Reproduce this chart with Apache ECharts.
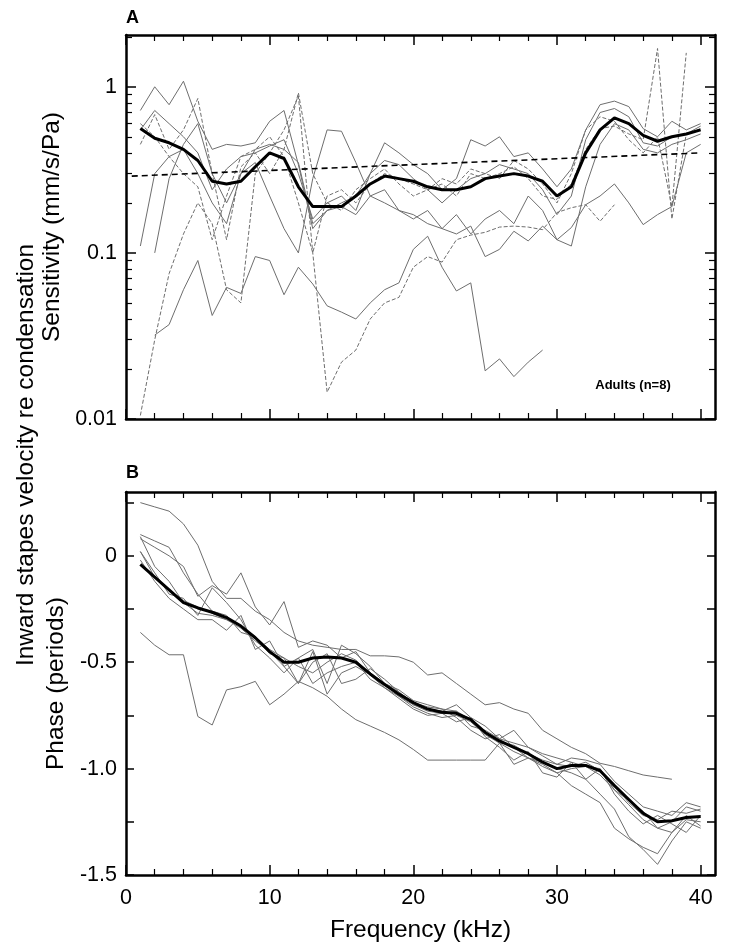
<!DOCTYPE html>
<html><head><meta charset="utf-8">
<script src="https://cdn.jsdelivr.net/npm/echarts@6/dist/echarts.min.js"></script>
<style>html,body{margin:0;padding:0;background:#fff}#c{width:730px;height:945px}</style>
</head><body><div id="c"></div>
<script>
// ---------- DATA ----------
const freq = [1,2,3,4,5,6,7,8,9,10,11,12,13,14,15,16,17,18,19,20,21,22,23,24,25,26,27,28,29,30,31,32,33,34,35,36,37,38,39,40];

// Panel A: sensitivity (mm/s/Pa), individual ears
const sensA = [0.72,1.0,0.78,1.08,0.62,0.42,0.45,0.44,0.46,0.62,0.72,0.34,0.14,0.18,0.20,0.22,0.30,0.46,0.40,0.34,0.30,0.24,0.28,0.48,0.44,0.50,0.38,0.40,0.32,0.25,0.32,0.55,0.78,0.82,0.76,0.56,0.50,0.62,0.55,0.60];
const sensB = [0.55,0.72,0.60,0.50,0.40,0.24,0.32,0.38,0.40,0.44,0.48,0.30,0.16,0.20,0.22,0.18,0.30,0.36,0.34,0.28,0.24,0.20,0.24,0.28,0.30,0.34,0.32,0.30,0.24,0.17,0.22,0.48,0.70,0.74,0.66,0.46,0.44,0.50,0.52,0.58];
const sensC = [0.45,0.68,0.42,0.55,0.85,0.30,0.12,0.33,0.40,0.30,0.42,0.92,0.30,0.20,0.18,0.24,0.28,0.32,0.26,0.22,0.24,0.28,0.26,0.32,0.30,0.28,0.36,0.32,0.26,0.20,0.30,0.55,0.66,0.62,0.48,0.40,0.50,0.19,1.60,null];
const sensD = [0.60,0.50,0.38,0.30,0.25,0.12,0.22,0.38,0.42,0.50,0.38,0.20,0.10,0.22,0.24,0.20,0.26,0.30,0.28,0.26,0.24,0.26,0.22,0.30,0.28,0.30,0.33,0.28,0.22,0.21,0.26,0.42,0.56,0.58,0.52,0.48,1.70,0.16,0.52,0.56];
const sensE = [0.11,0.30,0.38,0.42,0.30,0.20,0.15,0.30,0.35,0.22,0.14,0.10,0.28,0.55,0.54,0.35,0.22,0.20,0.18,0.17,0.15,0.14,0.13,0.145,0.095,0.105,0.135,0.118,0.145,0.12,0.142,0.195,0.22,0.26,0.20,0.148,0.17,0.19,0.40,0.45];
const sensF = [0.0105,0.03,0.075,0.13,0.20,0.15,0.06,0.05,0.30,0.40,0.55,0.88,0.10,0.0145,0.022,0.026,0.040,0.05,0.054,0.082,0.095,0.088,0.12,0.128,0.133,0.143,0.145,0.143,0.138,0.175,0.187,0.195,0.155,0.195,null,null,null,null,null,null];
const sensG = [null,0.032,0.037,0.06,0.09,0.042,0.062,0.057,0.095,0.09,0.056,0.082,0.065,0.048,0.044,0.040,0.05,0.06,0.066,0.105,0.126,0.082,0.059,0.066,0.0195,0.023,0.018,0.022,0.026,null,null,null,null,null,null,null,null,null,null,null];
const sensH = [null,0.10,0.28,0.45,0.60,0.30,0.20,0.30,0.42,0.45,0.42,0.35,0.15,0.18,0.19,0.17,0.22,0.24,0.18,0.16,0.18,0.14,0.17,0.13,0.16,0.18,0.15,0.22,0.18,0.12,0.11,0.25,0.45,0.60,0.55,0.42,0.40,0.45,0.48,0.52];
const sensMean = [0.56,0.49,0.46,0.42,0.36,0.27,0.26,0.27,0.33,0.40,0.37,0.25,0.19,0.19,0.19,0.22,0.26,0.29,0.28,0.27,0.25,0.24,0.24,0.25,0.28,0.29,0.30,0.29,0.27,0.22,0.25,0.40,0.55,0.65,0.60,0.51,0.47,0.50,0.52,0.55];
// exponential fit (straight on log axis)
const fitFreq = [0.4, 40];
const fitSens = [0.29, 0.40];

// Panel B: phase (periods)
const phaseA = [0.25,0.23,0.21,0.15,0.05,-0.12,-0.20,-0.20,-0.26,-0.30,-0.36,-0.40,-0.42,-0.43,-0.44,-0.44,-0.47,-0.47,-0.475,-0.50,-0.56,-0.55,-0.60,-0.65,-0.70,-0.69,-0.72,-0.74,-0.82,-0.86,-0.90,-0.93,-0.975,-0.99,-1.01,-1.03,-1.04,-1.05,null,null];
const phaseB = [0.08,0.04,0.0,-0.05,-0.19,-0.14,-0.18,-0.08,-0.24,-0.325,-0.215,-0.43,-0.40,-0.42,-0.48,-0.45,-0.55,-0.60,-0.63,-0.68,-0.70,-0.72,-0.73,-0.80,-0.82,-0.86,-0.88,-0.90,-0.93,-0.95,-0.97,-0.99,-1.00,-1.10,-1.15,-1.20,-1.28,-1.25,-1.18,-1.20];
const phaseC = [-0.36,-0.42,-0.465,-0.465,-0.755,-0.795,-0.63,-0.615,-0.59,-0.70,-0.65,-0.59,-0.62,-0.66,-0.72,-0.77,-0.80,-0.83,-0.865,-0.91,-0.96,-0.96,-0.96,-0.96,-0.96,-0.88,-0.98,-0.95,-0.97,-1.00,-1.02,-1.05,-1.12,-1.19,-1.32,-1.38,-1.45,-1.34,-1.25,-1.28];
const phaseD = [0.09,-0.05,-0.12,-0.22,-0.27,-0.28,-0.30,-0.34,-0.40,-0.45,-0.52,-0.48,-0.60,-0.55,-0.52,-0.50,-0.58,-0.62,-0.66,-0.71,-0.74,-0.76,-0.75,-0.78,-0.84,-0.88,-0.92,-0.95,-0.99,-1.02,-1.00,-0.99,-1.03,-1.10,-1.17,-1.24,-1.28,-1.30,-1.22,-1.27];
const phaseE = [0.02,-0.08,-0.18,-0.20,-0.28,-0.15,-0.22,-0.30,-0.42,-0.48,-0.55,-0.48,-0.44,-0.60,-0.42,-0.46,-0.52,-0.60,-0.64,-0.70,-0.72,-0.73,-0.70,-0.76,-0.80,-0.86,-0.82,-0.90,-0.94,-0.98,-0.95,-0.96,-0.98,-1.06,-1.12,-1.18,-1.20,-1.22,-1.16,-1.18];
const phaseF = [-0.02,-0.12,-0.20,-0.25,-0.30,-0.30,-0.35,-0.28,-0.44,-0.40,-0.52,-0.60,-0.45,-0.65,-0.55,-0.52,-0.56,-0.62,-0.67,-0.72,-0.75,-0.74,-0.78,-0.76,-0.85,-0.90,-0.96,-0.92,-1.02,-1.04,-0.97,-1.05,-1.00,-1.12,-1.20,-1.26,-1.22,-1.26,-1.30,-1.22];
const phaseG = [0.10,0.07,0.04,-0.08,-0.18,-0.26,-0.28,-0.36,-0.38,-0.46,-0.48,-0.60,-0.50,-0.46,-0.60,-0.58,-0.53,-0.58,-0.64,-0.69,-0.71,-0.72,-0.76,-0.82,-0.86,-0.84,-0.90,-0.95,-0.98,-1.02,-1.08,-1.12,-1.16,-1.28,-1.33,-1.37,-1.40,-1.30,-1.24,-1.25];
const phaseH = [0.02,-0.10,-0.16,-0.21,-0.24,-0.27,-0.30,-0.33,-0.38,-0.44,-0.48,-0.52,-0.55,-0.50,-0.46,-0.49,-0.56,-0.60,-0.66,-0.70,-0.73,-0.74,-0.73,-0.77,-0.83,-0.88,-0.89,-0.93,-0.96,-0.98,-0.99,-0.97,-1.01,-1.08,-1.16,-1.22,-1.24,-1.20,-1.21,-1.19];
const phaseMean = [-0.04,-0.10,-0.16,-0.22,-0.245,-0.265,-0.29,-0.33,-0.385,-0.45,-0.50,-0.50,-0.48,-0.475,-0.48,-0.50,-0.555,-0.605,-0.65,-0.69,-0.72,-0.735,-0.74,-0.77,-0.83,-0.87,-0.90,-0.93,-0.97,-1.00,-0.985,-0.985,-1.01,-1.08,-1.145,-1.21,-1.25,-1.245,-1.23,-1.225];

// tick values
const xMajorTicks = [0,10,20,30,40];
const xMinorTicks = [2,4,6,8,12,14,16,18,22,24,26,28,32,34,36,38];
const sensMajorTicks = [0.01,0.1,1];
const sensMinorTicks = [0.02,0.03,0.04,0.05,0.06,0.07,0.08,0.09,0.2,0.3,0.4,0.5,0.6,0.7,0.8,0.9,2];
const phaseTicks = [-1.5,-1.25,-1,-0.75,-0.5,-0.25,0,0.25];
const phaseLabels = [-1.5,-1,-0.5,0];

// ---------- CHART ----------
const FONT = 'Liberation Sans, Arial, Helvetica, sans-serif';
const pairs = (xs, ys) => xs.map((x,i)=>[x, ys[i]]).filter(p => p[1] !== null);
const chart = echarts.init(document.getElementById('c'), null, {renderer:'canvas'});

const grids = [
  {left:126, right:15, top:35, height:384},
  {left:126, right:15, top:492, height:383}
];
const lineBlack = {show:true, onZero:false, lineStyle:{color:'#000', width:2.5}};
const noLine = {show:false, onZero:false};
const TICK_FS = 21.5, TITLE_FS = 24.5;

function xAxes(g, withLabels) {
  const base = {gridIndex:g, type:'value', min:0, max:41, splitLine:{show:false}};
  return [
    Object.assign({}, base, {position:'bottom', axisLine:lineBlack,
      axisTick:{show:true, inside:true, length:10, customValues:xMajorTicks, lineStyle:{color:'#000', width:1.5}},
      axisLabel: withLabels ? {show:true, customValues:xMajorTicks, fontSize:TICK_FS, color:'#000', fontFamily:FONT, margin:12} : {show:false},
      name: withLabels ? 'Frequency (kHz)' : '', nameLocation:'middle', nameGap:43,
      nameTextStyle:{fontSize:TITLE_FS, color:'#000', fontFamily:FONT}}),
    Object.assign({}, base, {position:'top', axisLine:lineBlack,
      axisTick:{show:true, inside:true, length:10, customValues:xMajorTicks, lineStyle:{color:'#000', width:1.5}},
      axisLabel:{show:false}}),
    Object.assign({}, base, {position:'bottom', axisLine:noLine,
      axisTick:{show:true, inside:true, length:6, customValues:xMinorTicks, lineStyle:{color:'#000', width:1.2}},
      axisLabel:{show:false}}),
    Object.assign({}, base, {position:'top', axisLine:noLine,
      axisTick:{show:true, inside:true, length:6, customValues:xMinorTicks, lineStyle:{color:'#000', width:1.2}},
      axisLabel:{show:false}})
  ];
}

const sensBase = {gridIndex:0, type:'log', logBase:10, min:0.01, max:2.05, splitLine:{show:false}};
const phaseBase = {gridIndex:1, type:'value', min:-1.5, max:0.3, splitLine:{show:false}};
const yAxes = [
  Object.assign({}, sensBase, {position:'left', axisLine:lineBlack,
    axisTick:{show:true, inside:true, length:10, customValues:sensMajorTicks, lineStyle:{color:'#000', width:1.5}},
    axisLabel:{show:true, customValues:sensMajorTicks, fontSize:TICK_FS, color:'#000', fontFamily:FONT, margin:9,
      formatter: v => String(v)},
    name:'Sensitivity (mm/s/Pa)', nameLocation:'middle', nameGap:57, nameRotate:90,
    nameTextStyle:{fontSize:TITLE_FS, color:'#000', fontFamily:FONT}}),
  Object.assign({}, sensBase, {position:'right', axisLine:lineBlack,
    axisTick:{show:true, inside:true, length:10, customValues:sensMajorTicks, lineStyle:{color:'#000', width:1.5}},
    axisLabel:{show:false}}),
  Object.assign({}, sensBase, {position:'left', axisLine:noLine,
    axisTick:{show:true, inside:true, length:6, customValues:sensMinorTicks, lineStyle:{color:'#000', width:1.2}},
    axisLabel:{show:false}}),
  Object.assign({}, sensBase, {position:'right', axisLine:noLine,
    axisTick:{show:true, inside:true, length:6, customValues:sensMinorTicks, lineStyle:{color:'#000', width:1.2}},
    axisLabel:{show:false}}),
  Object.assign({}, phaseBase, {position:'left', axisLine:lineBlack,
    axisTick:{show:true, inside:true, length:8, customValues:phaseTicks, lineStyle:{color:'#000', width:1.5}},
    axisLabel:{show:true, customValues:phaseLabels, fontSize:TICK_FS, color:'#000', fontFamily:FONT, margin:9,
      formatter: v => v === 0 ? '0' : v.toFixed(1)},
    name:'Phase (periods)', nameLocation:'middle', nameGap:57, nameRotate:90,
    nameTextStyle:{fontSize:TITLE_FS, color:'#000', fontFamily:FONT}}),
  Object.assign({}, phaseBase, {position:'right', axisLine:lineBlack,
    axisTick:{show:true, inside:true, length:8, customValues:phaseTicks, lineStyle:{color:'#000', width:1.5}},
    axisLabel:{show:false}})
];

const GRAY = '#6e6e6e';
function thin(data, xi, yi, dashed) {
  return {type:'line', xAxisIndex:xi, yAxisIndex:yi, data:data, symbol:'none', silent:true,
    lineStyle:{color:GRAY, width:1, type: dashed ? [4,2] : 'solid'}, z:2};
}
const series = [
  thin(pairs(freq, sensA), 0, 0, false),
  thin(pairs(freq, sensB), 0, 0, false),
  thin(pairs(freq, sensC), 0, 0, true),
  thin(pairs(freq, sensD), 0, 0, true),
  thin(pairs(freq, sensE), 0, 0, false),
  thin(pairs(freq, sensF), 0, 0, true),
  thin(pairs(freq, sensG), 0, 0, false),
  thin(pairs(freq, sensH), 0, 0, false),
  {type:'line', xAxisIndex:0, yAxisIndex:0, data:pairs(fitFreq, fitSens), symbol:'none', silent:true,
    lineStyle:{color:'#000', width:1.6, type:[6,4]}, z:3},
  {type:'line', xAxisIndex:0, yAxisIndex:0, data:pairs(freq, sensMean), symbol:'none', silent:true,
    lineStyle:{color:'#000', width:3}, z:4},
  thin(pairs(freq, phaseA), 4, 4, false),
  thin(pairs(freq, phaseB), 4, 4, false),
  thin(pairs(freq, phaseC), 4, 4, false),
  thin(pairs(freq, phaseD), 4, 4, false),
  thin(pairs(freq, phaseE), 4, 4, false),
  thin(pairs(freq, phaseF), 4, 4, false),
  thin(pairs(freq, phaseG), 4, 4, false),
  thin(pairs(freq, phaseH), 4, 4, false),
  {type:'line', xAxisIndex:4, yAxisIndex:4, data:pairs(freq, phaseMean), symbol:'none', silent:true,
    lineStyle:{color:'#000', width:3}, z:4}
];

chart.setOption({
  animation:false,
  backgroundColor:'#fff',
  grid: grids,
  xAxis: xAxes(0, false).concat(xAxes(1, true)),
  yAxis: yAxes,
  series: series,
  graphic: [
    {type:'text', left:126, top:9, style:{text:'A', fontSize:18, fontWeight:'bold', fill:'#000', fontFamily:FONT}},
    {type:'text', left:126, top:464, style:{text:'B', fontSize:18, fontWeight:'bold', fill:'#000', fontFamily:FONT}},
    {type:'text', x:633, y:385, style:{text:'Adults (n=8)', fontSize:13, fontWeight:'bold', fill:'#000', fontFamily:FONT, align:'center', verticalAlign:'middle'}},
    {type:'text', x:26, y:455, rotation:Math.PI/2, style:{text:'Inward stapes velocity re condensation', fontSize:TITLE_FS, fill:'#000', fontFamily:FONT, align:'center', verticalAlign:'middle'}}
  ]
});
</script></body></html>
